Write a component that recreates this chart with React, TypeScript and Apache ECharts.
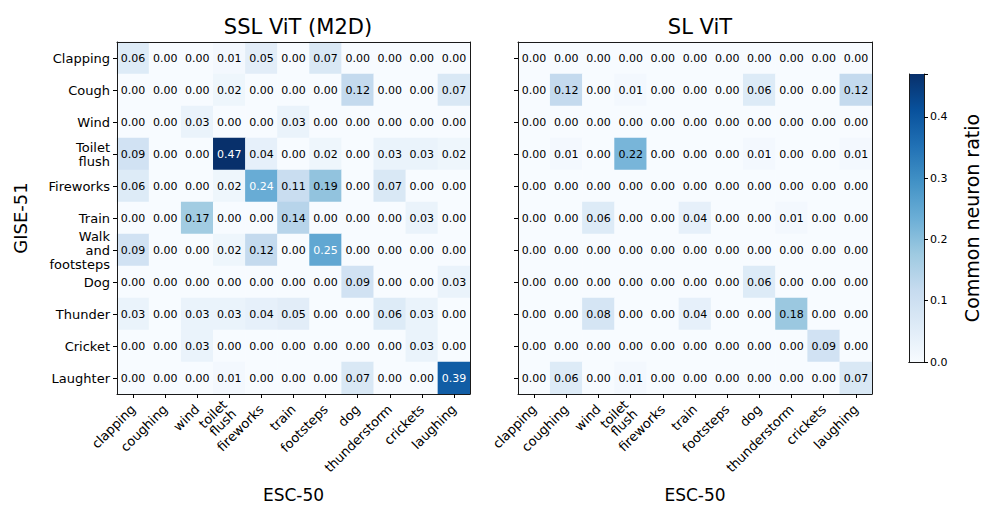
import React, { useEffect, useRef } from "react";
import * as echarts from "echarts";

const esc50 = ["clapping", "coughing", "wind", "toilet\nflush", "fireworks", "train", "footsteps", "dog", "thunderstorm", "crickets", "laughing"];
const gise51 = ["Clapping", "Cough", "Wind", "Toilet\nflush", "Fireworks", "Train", "Walk\nand\nfootsteps", "Dog", "Thunder", "Cricket", "Laughter"];

const sslVit = [
  [0.06, 0.00, 0.00, 0.01, 0.05, 0.00, 0.07, 0.00, 0.00, 0.00, 0.00],
  [0.00, 0.00, 0.00, 0.02, 0.00, 0.00, 0.00, 0.12, 0.00, 0.00, 0.07],
  [0.00, 0.00, 0.03, 0.00, 0.00, 0.03, 0.00, 0.00, 0.00, 0.00, 0.00],
  [0.09, 0.00, 0.00, 0.47, 0.04, 0.00, 0.02, 0.00, 0.03, 0.03, 0.02],
  [0.06, 0.00, 0.00, 0.02, 0.24, 0.11, 0.19, 0.00, 0.07, 0.00, 0.00],
  [0.00, 0.00, 0.17, 0.00, 0.00, 0.14, 0.00, 0.00, 0.00, 0.03, 0.00],
  [0.09, 0.00, 0.00, 0.02, 0.12, 0.00, 0.25, 0.00, 0.00, 0.00, 0.00],
  [0.00, 0.00, 0.00, 0.00, 0.00, 0.00, 0.00, 0.09, 0.00, 0.00, 0.03],
  [0.03, 0.00, 0.03, 0.03, 0.04, 0.05, 0.00, 0.00, 0.06, 0.03, 0.00],
  [0.00, 0.00, 0.03, 0.00, 0.00, 0.00, 0.00, 0.00, 0.00, 0.03, 0.00],
  [0.00, 0.00, 0.00, 0.01, 0.00, 0.00, 0.00, 0.07, 0.00, 0.00, 0.39],
];

const slVit = [
  [0.00, 0.00, 0.00, 0.00, 0.00, 0.00, 0.00, 0.00, 0.00, 0.00, 0.00],
  [0.00, 0.12, 0.00, 0.01, 0.00, 0.00, 0.00, 0.06, 0.00, 0.00, 0.12],
  [0.00, 0.00, 0.00, 0.00, 0.00, 0.00, 0.00, 0.00, 0.00, 0.00, 0.00],
  [0.00, 0.01, 0.00, 0.22, 0.00, 0.00, 0.00, 0.01, 0.00, 0.00, 0.01],
  [0.00, 0.00, 0.00, 0.00, 0.00, 0.00, 0.00, 0.00, 0.00, 0.00, 0.00],
  [0.00, 0.00, 0.06, 0.00, 0.00, 0.04, 0.00, 0.00, 0.01, 0.00, 0.00],
  [0.00, 0.00, 0.00, 0.00, 0.00, 0.00, 0.00, 0.00, 0.00, 0.00, 0.00],
  [0.00, 0.00, 0.00, 0.00, 0.00, 0.00, 0.00, 0.06, 0.00, 0.00, 0.00],
  [0.00, 0.00, 0.08, 0.00, 0.00, 0.04, 0.00, 0.00, 0.18, 0.00, 0.00],
  [0.00, 0.00, 0.00, 0.00, 0.00, 0.00, 0.00, 0.00, 0.00, 0.09, 0.00],
  [0.00, 0.06, 0.00, 0.01, 0.00, 0.00, 0.00, 0.00, 0.00, 0.00, 0.07],
];

const colorMax = 0.47;
const colorTicks = [0, 0.1, 0.2, 0.3, 0.4];
const blues = ["#f7fbff", "#deebf7", "#c6dbef", "#9ecae1", "#6baed6", "#4292c6", "#2171b5", "#08519c", "#08306b"];

const FONT = "DejaVu Sans";
const FRAME = "#1a1a1a";

function toCells(m: number[][]) {
  const out: any[] = [];
  m.forEach((row, y) =>
    row.forEach((v, x) => {
      out.push({ value: [x, y, v], label: { color: v > colorMax / 2 ? "#ffffff" : "#000000" } });
    })
  );
  return out;
}

export default function App() {
  const ref = useRef<HTMLDivElement>(null);
  useEffect(() => {
    if (!ref.current) return;
    const chart = echarts.init(ref.current, null, { renderer: "svg" });
    const grids = [
      { left: 117, top: 42, width: 353, height: 352 },
      { left: 518, top: 42, width: 354, height: 352 },
      { left: 909, top: 74, width: 15, height: 288 },
    ];
    const line = { show: true, lineStyle: { color: FRAME, width: 1 } };
    const baseX = (gi: number) => ({
      type: "category",
      gridIndex: gi,
      data: esc50,
      name: "ESC-50",
      nameLocation: "middle",
      nameGap: 92,
      nameTextStyle: { fontFamily: FONT, fontSize: 17, color: "#000" },
      axisLine: line,
      axisTick: { show: true, alignWithLabel: true, length: 4, lineStyle: { color: "#000" } },
      axisLabel: { rotate: 45, fontFamily: FONT, fontSize: 13, color: "#000", margin: 13, interval: 0, lineHeight: 13 },
      splitLine: { show: false },
      z: 10,
    });
    const frameX = (gi: number) => ({
      type: "category", gridIndex: gi, position: "top", data: esc50,
      axisLine: line, axisTick: { show: false }, axisLabel: { show: false }, z: 10,
    });
    const baseY = (gi: number, labels: boolean) => ({
      type: "category",
      gridIndex: gi,
      data: gise51,
      inverse: true,
      name: labels ? "GISE-51" : "",
      nameLocation: "middle",
      nameGap: 88,
      nameTextStyle: { fontFamily: FONT, fontSize: 18, color: "#000" },
      axisLine: line,
      axisTick: { show: true, alignWithLabel: true, length: 4, lineStyle: { color: "#000" } },
      axisLabel: { show: labels, fontFamily: FONT, fontSize: 13, color: "#000", margin: 7, interval: 0, lineHeight: 14, align: "right" },
      splitLine: { show: false },
      z: 10,
    });
    const frameY = (gi: number) => ({
      type: "category", gridIndex: gi, position: "right", data: gise51, inverse: true,
      axisLine: line, axisTick: { show: false }, axisLabel: { show: false }, z: 10,
    });
    const heat = (gi: number, m: number[][]) => ({
      type: "heatmap",
      xAxisIndex: gi,
      yAxisIndex: gi,
      data: toCells(m),
      label: {
        show: true,
        fontFamily: FONT,
        fontSize: 11,
        formatter: (p: any) => p.value[2].toFixed(2),
      },
      emphasis: { disabled: true },
      itemStyle: { borderWidth: 0 },
      z: 1,
    });
    const titleStyle = { fontFamily: FONT, fontSize: 21, fontWeight: "normal", color: "#000" };

    const option: any = {
      animation: false,
      backgroundColor: "#ffffff",
      title: [
        { text: "SSL ViT (M2D)", left: 293, top: 11, textAlign: "center", textStyle: titleStyle },
        { text: "SL ViT", left: 695, top: 11, textAlign: "center", textStyle: titleStyle },
      ],
      grid: grids,
      xAxis: [
        baseX(0), baseX(1),
        { type: "category", gridIndex: 2, data: [""], axisLine: line, axisTick: { show: false }, axisLabel: { show: false }, z: 10 },
        frameX(0), frameX(1),
        { type: "category", gridIndex: 2, position: "top", data: [""], axisLine: line, axisTick: { show: false }, axisLabel: { show: false }, z: 10 },
      ],
      yAxis: [
        baseY(0, true), baseY(1, false),
        {
          type: "value", gridIndex: 2, position: "right", min: 0, max: colorMax, interval: 0.1,
          name: "Common neuron ratio", nameLocation: "middle", nameRotate: 90, nameGap: 38,
          nameTextStyle: { fontFamily: FONT, fontSize: 19, color: "#000" },
          axisLine: line,
          axisTick: { show: true, length: 4, lineStyle: { color: "#000" } },
          axisLabel: { fontFamily: FONT, fontSize: 11, color: "#000", margin: 6, formatter: (v: number) => (colorTicks.some((t) => Math.abs(t - v) < 1e-9) ? v.toFixed(1) : "") },
          splitLine: { show: false },
          z: 10,
        },
        frameY(0), frameY(1),
        { type: "value", gridIndex: 2, position: "left", min: 0, max: colorMax, axisLine: line, axisTick: { show: false }, axisLabel: { show: false }, splitLine: { show: false }, z: 10 },
      ],
      visualMap: {
        show: false,
        type: "continuous",
        seriesIndex: [0, 1],
        min: 0,
        max: colorMax,
        inRange: { color: blues },
      },
      series: [
        heat(0, sslVit),
        heat(1, slVit),
        {
          type: "bar",
          xAxisIndex: 2,
          yAxisIndex: 2,
          data: [colorMax],
          barWidth: "100%",
          silent: true,
          itemStyle: {
            color: new echarts.graphic.LinearGradient(0, 0, 0, 1, blues.slice().reverse().map((c, i) => ({ offset: i / (blues.length - 1), color: c }))),
          },
          z: 1,
        },
      ],
    };
    chart.setOption(option);
    return () => chart.dispose();
  }, []);
  return <div ref={ref} style={{ position: "fixed", left: 0, top: 0, width: 997, height: 518 }} />;
}
